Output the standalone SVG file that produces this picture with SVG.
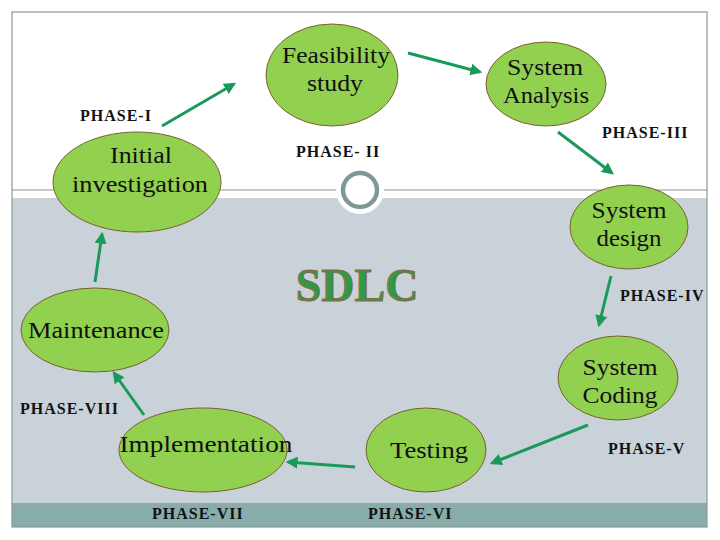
<svg xmlns="http://www.w3.org/2000/svg" width="720" height="540" viewBox="0 0 720 540">
<defs>
<style>
.node{fill:#92d050;stroke:#7a6030;stroke-width:1}
.lbl{font-size:24px;fill:#111;text-anchor:middle}
.ph{font-size:16px;font-weight:bold;fill:#111;letter-spacing:1px}
.arr{stroke:#1a9a5a;stroke-width:3;fill:none;marker-end:url(#ah)}
</style>
<marker id="ah" viewBox="0 0 10 10" refX="8" refY="5" markerWidth="4" markerHeight="4" orient="auto" markerUnits="strokeWidth">
<path d="M0,0 L10,5 L0,10 z" fill="#1a9a5a"/>
</marker>
</defs>
<rect x="0" y="0" width="720" height="540" fill="#ffffff"/>
<g id="background">
<rect x="12" y="198" width="695" height="305" fill="#c8d2d8"/>
<rect x="12" y="503" width="695" height="24" fill="#88acaa"/>
<rect x="12" y="12" width="695" height="515" fill="none" stroke="#8a9898" stroke-width="1.2"/>
<line x1="12" y1="190" x2="707" y2="190" stroke="#8a9898" stroke-width="1.2"/>
<circle cx="360" cy="190" r="24" fill="#ffffff"/>
<circle cx="360" cy="190" r="17" fill="none" stroke="#7e9898" stroke-width="4.5"/>
</g>
<g id="connectors">
<line class="arr" x1="162" y1="126" x2="234" y2="84"/>
<line class="arr" x1="408" y1="53" x2="480" y2="72"/>
<line class="arr" x1="558" y1="132" x2="612" y2="173"/>
<line class="arr" x1="611" y1="276" x2="599" y2="325"/>
<line class="arr" x1="588" y1="425" x2="492" y2="463"/>
<line class="arr" x1="355" y1="467" x2="288" y2="462"/>
<line class="arr" x1="144" y1="415" x2="114" y2="373"/>
<line class="arr" x1="95" y1="282" x2="102" y2="234"/>
</g>
<g font-family="'Liberation Serif', 'DejaVu Serif', serif">
<g id="title">
<text x="357" y="301" font-size="46" font-weight="bold" fill="#2e9a48" stroke="#8a6a4a" stroke-width="1" text-anchor="middle">SDLC</text>
</g>
<g id="feasibility">
<ellipse class="node" cx="332" cy="75" rx="66" ry="51"/>
<text class="lbl" x="336" y="63" textLength="108" lengthAdjust="spacingAndGlyphs">Feasibility</text>
<text class="lbl" x="335" y="91" textLength="56" lengthAdjust="spacingAndGlyphs">study</text>
</g>
<g id="analysis">
<ellipse class="node" cx="546" cy="84" rx="60" ry="42"/>
<text class="lbl" x="545" y="75" textLength="76" lengthAdjust="spacingAndGlyphs">System</text>
<text class="lbl" x="546" y="103" textLength="86" lengthAdjust="spacingAndGlyphs">Analysis</text>
</g>
<g id="initial">
<ellipse class="node" cx="137" cy="182" rx="84" ry="50"/>
<text class="lbl" x="141" y="163" textLength="62" lengthAdjust="spacingAndGlyphs">Initial</text>
<text class="lbl" x="140" y="192" textLength="136" lengthAdjust="spacingAndGlyphs">investigation</text>
</g>
<g id="design">
<ellipse class="node" cx="629" cy="227" rx="59" ry="42"/>
<text class="lbl" x="629" y="218" textLength="75" lengthAdjust="spacingAndGlyphs">System</text>
<text class="lbl" x="629" y="246" textLength="65" lengthAdjust="spacingAndGlyphs">design</text>
</g>
<g id="maintenance">
<ellipse class="node" cx="95" cy="330" rx="74" ry="42"/>
<text class="lbl" x="96" y="338" textLength="136" lengthAdjust="spacingAndGlyphs">Maintenance</text>
</g>
<g id="coding">
<ellipse class="node" cx="618" cy="378" rx="60" ry="42"/>
<text class="lbl" x="620" y="375" textLength="75" lengthAdjust="spacingAndGlyphs">System</text>
<text class="lbl" x="620" y="403" textLength="75" lengthAdjust="spacingAndGlyphs">Coding</text>
</g>
<g id="implementation">
<ellipse class="node" cx="203" cy="450" rx="84" ry="42"/>
<text class="lbl" x="206" y="452" textLength="173" lengthAdjust="spacingAndGlyphs">Implementation</text>
</g>
<g id="testing">
<ellipse class="node" cx="426" cy="450" rx="60" ry="42"/>
<text class="lbl" x="429" y="458" textLength="78" lengthAdjust="spacingAndGlyphs">Testing</text>
</g>
<g id="phases">
<text class="ph" x="80" y="121">PHASE-I</text>
<text class="ph" x="296" y="157">PHASE- II</text>
<text class="ph" x="602" y="138">PHASE-III</text>
<text class="ph" x="620" y="301">PHASE-IV</text>
<text class="ph" x="608" y="454">PHASE-V</text>
<text class="ph" x="368" y="519">PHASE-VI</text>
<text class="ph" x="152" y="519">PHASE-VII</text>
<text class="ph" x="20" y="414">PHASE-VIII</text>
</g>
</g>
</svg>
